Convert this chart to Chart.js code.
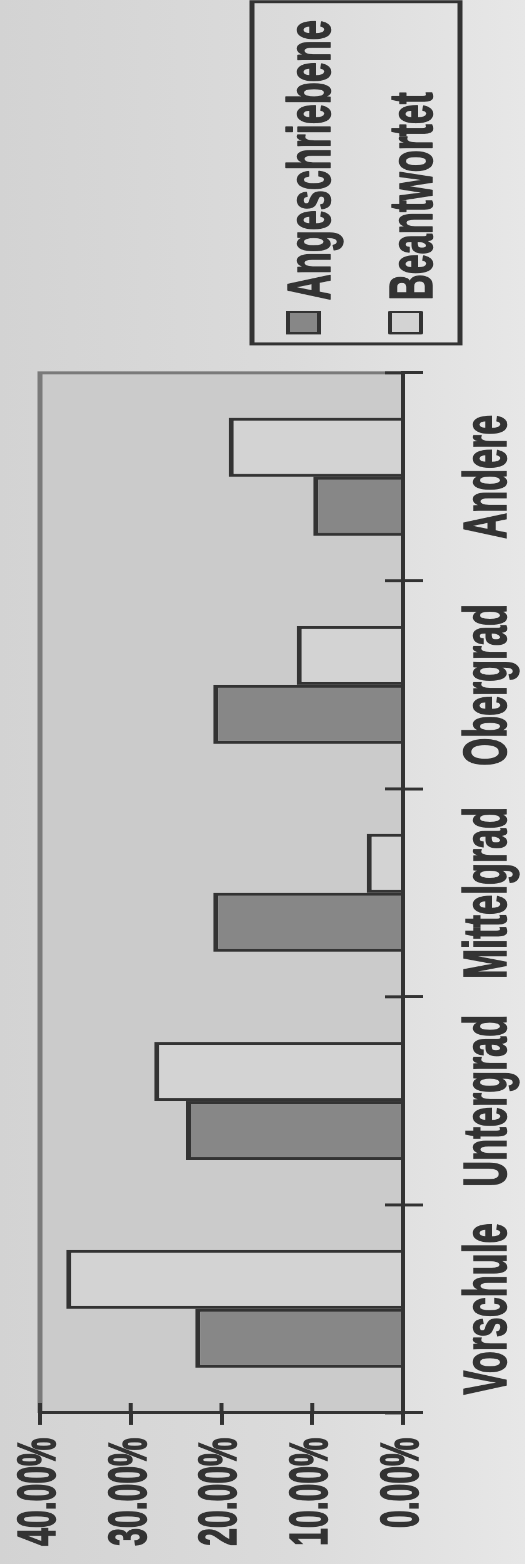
<!DOCTYPE html>
<html>
<head>
<meta charset="utf-8">
<script src="https://cdn.jsdelivr.net/npm/chart.js"></script>
<style>
  html, body {
    margin: 0; padding: 0; width: 525px; height: 1564px; overflow: hidden;
    background: linear-gradient(to right, #d3d3d3 0%, #dbdbdb 55%, #e7e7e7 100%);
  }
  /* chart is laid out landscape, then turned to read bottom-to-top */
  #wrap {
    position: absolute; left: 0; top: 0; width: 2651px; height: 525px;
    transform-origin: 0 0;
    transform: translate(0, 1564px) rotate(-90deg) scaleX(0.59);
  }
  canvas { display: block; }
</style>
</head>
<body>
<div id="wrap"><canvas id="c" width="2651" height="525"></canvas></div>
<script>
const categories = ['Vorschule', 'Untergrad', 'Mittelgrad', 'Obergrad', 'Andere'];
const angeschriebene = [22.9, 23.9, 20.9, 20.9, 9.9];
const beantwortet = [37.1, 27.4, 4.0, 11.7, 19.2];
const seriesNames = ['Angeschriebene', 'Beantwortet'];
const seriesFills = ['#878787', '#d3d3d3'];
const valueMin = 0, valueMax = 40, valueStep = 10;

const INK = '#333333';
const FONT = '"Liberation Sans", Arial, sans-serif';

// grey plot area with a thin frame
const plotFrame = {
  id: 'plotFrame',
  beforeDraw(chart) {
    const { ctx, chartArea: a } = chart;
    ctx.save();
    ctx.fillStyle = '#cbcbcb';
    ctx.fillRect(a.left, a.top, a.right - a.left, a.bottom - a.top);
    ctx.strokeStyle = '#7a7a7a';
    ctx.lineWidth = 5;
    ctx.beginPath();
    ctx.moveTo(a.left, a.top);
    ctx.lineTo(a.right, a.top);
    ctx.lineTo(a.right, a.bottom);
    ctx.stroke();
    ctx.restore();
  }
};

// tick marks that cross the axis lines (inner half)
const crossTicks = {
  id: 'crossTicks',
  afterDraw(chart) {
    const { ctx, chartArea: a } = chart;
    const xs = chart.scales.x, ys = chart.scales.y;
    ctx.save();
    ctx.strokeStyle = INK;
    const n = xs.ticks.length;
    ctx.lineWidth = 5;
    for (let i = 0; i <= n; i++) {
      const p = i === 0 ? a.left : i === n ? a.right
        : (xs.getPixelForTick(i - 1) + xs.getPixelForTick(i)) / 2;
      ctx.beginPath(); ctx.moveTo(p, a.bottom - 18); ctx.lineTo(p, a.bottom); ctx.stroke();
    }
    ctx.lineWidth = 4;
    ys.ticks.forEach((t, i) => {
      const p = ys.getPixelForTick(i);
      ctx.beginPath(); ctx.moveTo(a.left, p); ctx.lineTo(a.left + 17, p); ctx.stroke();
    });
    ctx.restore();
  }
};

// framed legend in the right margin
const boxedLegend = {
  id: 'boxedLegend',
  afterDraw(chart) {
    const ctx = chart.ctx;
    ctx.save();
    ctx.strokeStyle = INK;
    ctx.lineWidth = 5;
    ctx.strokeRect(2068, 252, 580, 208);
    ctx.font = 'bold 61px ' + FONT;
    ctx.textBaseline = 'alphabetic';
    ctx.textAlign = 'left';
    const rows = [330, 432];
    chart.data.datasets.forEach((ds, i) => {
      const base = rows[i];
      ctx.fillStyle = ds.backgroundColor;
      ctx.fillRect(2086, base - 42, 36, 31);
      ctx.lineWidth = 4;
      ctx.strokeRect(2086, base - 42, 36, 31);
      ctx.fillStyle = INK;
      ctx.lineWidth = 1.5;
      ctx.lineJoin = 'round';
      ctx.strokeText(ds.label, 2142, base);
      ctx.fillText(ds.label, 2142, base);
    });
    ctx.restore();
  }
};

new Chart(document.getElementById('c'), {
  type: 'bar',
  data: {
    labels: categories,
    datasets: [
      { label: seriesNames[0], data: angeschriebene, backgroundColor: seriesFills[0] },
      { label: seriesNames[1], data: beantwortet, backgroundColor: seriesFills[1] }
    ]
  },
  options: {
    responsive: false,
    devicePixelRatio: 1,
    animation: false,
    layout: { padding: { left: 0, top: 40, right: 632, bottom: 0 } },
    datasets: {
      bar: {
        categoryPercentage: 0.567,
        barPercentage: 1.0,
        borderColor: INK,
        borderWidth: 5,
        borderSkipped: 'start'
      }
    },
    plugins: {
      legend: { display: false },
      tooltip: { enabled: false },
      title: { display: false }
    },
    scales: {
      x: {
        afterFit(s) { s.height = 122; s.paddingLeft = 0; s.paddingRight = 0; },
        grid: { display: true, offset: true, drawOnChartArea: false, drawTicks: true,
                tickLength: 20, color: INK, lineWidth: 5 },
        border: { display: true, color: INK, width: 4 },
        ticks: { color: INK, font: { family: FONT, size: 61, weight: 'bold' },
                 textStrokeColor: INK, textStrokeWidth: 1.5,
                 padding: 30, maxRotation: 0, autoSkip: false }
      },
      y: {
        min: valueMin, max: valueMax,
        afterFit(s) { s.width = 256; s.paddingTop = 0; s.paddingBottom = 0; },
        grid: { display: true, drawOnChartArea: false, drawTicks: true,
                tickLength: 20, color: INK, lineWidth: 4 },
        border: { display: true, color: INK, width: 5 },
        ticks: { stepSize: valueStep, color: INK,
                 font: { family: FONT, size: 54, weight: 'bold', lineHeight: 1 },
                 textStrokeColor: INK, textStrokeWidth: 1.5,
                 padding: 22, callback: v => v.toFixed(2) + '%' }
      }
    }
  },
  plugins: [plotFrame, crossTicks, boxedLegend]
});
</script>
</body>
</html>
